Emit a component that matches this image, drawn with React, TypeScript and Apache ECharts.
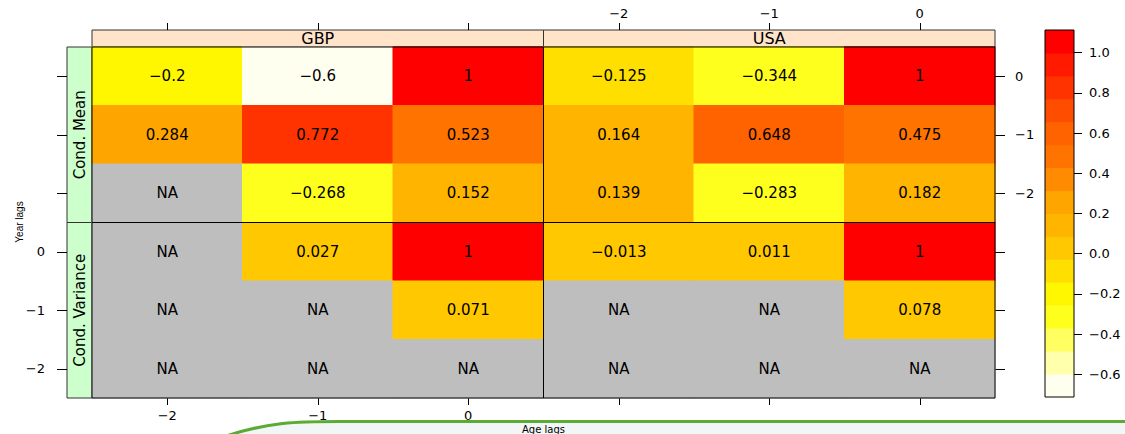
import React, { useEffect, useRef } from "react";
import * as echarts from "echarts";

// Axis categories
const ageLags = ["-2", "-1", "0"]; // x, left to right
const yearAxis = ["-2", "-1", "0"]; // y, bottom to top
const yearRows = ["0", "-1", "-2"]; // row order of the tables below (top to bottom)

// Correlation tables: rows = year lag (0, -1, -2), columns = age lag (-2, -1, 0); null = NA
const gbpMean = [
  [-0.2, -0.6, 1],
  [0.284, 0.772, 0.523],
  [null, -0.268, 0.152],
];
const usaMean = [
  [-0.125, -0.344, 1],
  [0.164, 0.648, 0.475],
  [0.139, -0.283, 0.182],
];
const gbpVar = [
  [null, 0.027, 1],
  [null, null, 0.071],
  [null, null, null],
];
const usaVar = [
  [-0.013, 0.011, 1],
  [null, null, 0.078],
  [null, null, null],
];

const currencies = ["GBP", "USA"];
const moments = ["Cond. Mean", "Cond. Variance"];

// Colour key: 16 levels between these breaks (bottom to top)
const keyBreaks = [
  -0.712, -0.598, -0.484, -0.37, -0.256, -0.142, -0.028, 0.086, 0.2, 0.314,
  0.428, 0.542, 0.656, 0.77, 0.884, 0.998, 1.112,
];
const keyColors = [
  "#FFFFF0", "#FFFFAC", "#FFFF62", "#FFFF1E", "#FFF700", "#FFDF00", "#FFC800",
  "#FFB400", "#FFA500", "#FF8C00", "#FF7300", "#FF6300", "#FF4D00", "#FF3300",
  "#FF1A00", "#FF0000",
];
const keyTicks = [-0.6, -0.4, -0.2, 0, 0.2, 0.4, 0.6, 0.8, 1.0];

const NA_GRAY = "#BEBEBE";
const FONT = '"DejaVu Sans", "Liberation Sans", sans-serif';
const minus = (s: string) => s.replace("-", "\u2212");

function levelColor(v: number) {
  for (let i = 0; i < keyColors.length; i++) {
    if (v >= keyBreaks[i] && v < keyBreaks[i + 1]) return keyColors[i];
  }
  return v < keyBreaks[0] ? keyColors[0] : keyColors[keyColors.length - 1];
}

// Panel geometry
const PX = [92, 543.5];
const PY = [47, 222.5];
const PW = 451.5;
const PH = 175.5;

export default function App() {
  const ref = useRef<HTMLDivElement>(null);

  useEffect(() => {
    if (!ref.current) return;
    const chart = echarts.init(ref.current, null, { renderer: "svg" });

    const tables = [
      [gbpMean, usaMean],
      [gbpVar, usaVar],
    ];

    const grids: any[] = [];
    const xAxes: any[] = [];
    const yAxes: any[] = [];
    const series: any[] = [];

    const tickStyle = { color: "#000", width: 1 };
    const labelStyle = { color: "#000", fontSize: 13, fontFamily: FONT };

    for (let r = 0; r < 2; r++) {
      for (let c = 0; c < 2; c++) {
        const gi = grids.length;
        grids.push({ left: PX[c], top: PY[r], width: PW, height: PH, show: false });

        // lattice-style alternating axes
        const xTop = r === 0;
        const xLabels = (r === 0 && c === 1) || (r === 1 && c === 0);
        xAxes.push({
          type: "category",
          gridIndex: gi,
          data: ageLags,
          position: xTop ? "top" : "bottom",
          offset: xTop ? 17 : 0,
          axisLine: { show: false },
          axisTick: { show: true, alignWithLabel: true, length: 7, lineStyle: tickStyle },
          axisLabel: {
            show: xLabels,
            margin: xTop ? 10 : 11,
            formatter: (v: string) => minus(v),
            ...labelStyle,
          },
          splitLine: { show: false },
        });
        const yLeft = c === 0;
        const yLabels = (r === 1 && c === 0) || (r === 0 && c === 1);
        yAxes.push({
          type: "category",
          gridIndex: gi,
          data: yearAxis,
          position: yLeft ? "left" : "right",
          offset: yLeft ? 25 : 0,
          axisLine: { show: false },
          axisTick: { show: true, alignWithLabel: true, length: 10, lineStyle: tickStyle },
          axisLabel: {
            show: yLabels,
            margin: yLeft ? 22 : 20,
            formatter: (v: string) => minus(v),
            ...labelStyle,
          },
          splitLine: { show: false },
        });

        const table = tables[r][c];
        const cells: { x: number; y: number; v: number | null }[] = [];
        table.forEach((row, ri) => {
          row.forEach((v, ci) => {
            cells.push({ x: ci, y: yearAxis.indexOf(yearRows[ri]), v });
          });
        });

        series.push({
          type: "custom",
          xAxisIndex: gi,
          yAxisIndex: gi,
          data: cells.map((d) => [d.x, d.y]),
          encode: { x: 0, y: 1 },
          renderItem: (params: any, api: any) => {
            const cell = cells[params.dataIndex];
            const p = api.coord([api.value(0), api.value(1)]);
            const s = api.size([1, 1]);
            const label = cell.v === null ? "NA" : minus(String(cell.v));
            const fill = cell.v === null ? NA_GRAY : levelColor(cell.v);
            return {
              type: "group",
              children: [
                {
                  type: "rect",
                  shape: {
                    x: p[0] - s[0] / 2 - 0.5,
                    y: p[1] - s[1] / 2 - 0.5,
                    width: s[0] + 1,
                    height: s[1] + 1,
                  },
                  style: { fill },
                },
                {
                  type: "text",
                  style: {
                    x: p[0],
                    y: p[1],
                    text: label,
                    align: "center",
                    verticalAlign: "middle",
                    fill: "#000",
                    font: `15px ${FONT}`,
                  },
                },
              ],
            };
          },
        });
      }
    }

    // Colour key
    const keyGrid = grids.length;
    grids.push({ left: 1045, top: 30, width: 29, height: 367, show: false });
    xAxes.push({
      type: "category",
      gridIndex: keyGrid,
      data: ["key"],
      show: false,
    });
    yAxes.push({
      type: "value",
      gridIndex: keyGrid,
      min: keyBreaks[0],
      max: keyBreaks[keyBreaks.length - 1],
      position: "right",
      axisLine: { show: false },
      splitLine: { show: false },
      axisTick: { show: true, length: 8, customValues: keyTicks, lineStyle: tickStyle },
      axisLabel: {
        show: true,
        margin: 15,
        customValues: keyTicks,
        formatter: (v: number) => minus(v.toFixed(1)),
        ...labelStyle,
      },
    });
    series.push({
      type: "custom",
      xAxisIndex: keyGrid,
      yAxisIndex: keyGrid,
      data: keyColors.map((_, i) => [0, keyBreaks[i], keyBreaks[i + 1]]),
      encode: { x: 0, y: [1, 2] },
      renderItem: (params: any, api: any) => {
        const top = api.coord([0, api.value(2)]);
        const bot = api.coord([0, api.value(1)]);
        const w = api.size([1, 0])[0];
        return {
          type: "rect",
          shape: { x: top[0] - w / 2, y: top[1], width: w, height: bot[1] - top[1] + 0.5 },
          style: { fill: keyColors[params.dataIndex] },
        };
      },
    });

    const graphic: any[] = [];
    // strips
    currencies.forEach((name, c) => {
      graphic.push({
        type: "rect",
        shape: { x: PX[c], y: 30, width: PW, height: 17 },
        style: { fill: "#FFE4CA", stroke: "#333", lineWidth: 1 },
      });
      graphic.push({
        type: "text",
        x: PX[c] + PW / 2,
        y: 38.5,
        style: { text: name, align: "center", verticalAlign: "middle", fill: "#000", font: `16px ${FONT}` },
      });
    });
    moments.forEach((name, r) => {
      graphic.push({
        type: "rect",
        shape: { x: 67, y: PY[r], width: 25, height: PH },
        style: { fill: "#CCFFCC", stroke: "#333", lineWidth: 1 },
      });
      graphic.push({
        type: "text",
        x: 79.5,
        y: PY[r] + PH / 2,
        rotation: Math.PI / 2,
        style: { text: name, align: "center", verticalAlign: "middle", fill: "#000", font: `15px ${FONT}` },
      });
    });
    // panel borders
    for (let r = 0; r < 2; r++) {
      for (let c = 0; c < 2; c++) {
        graphic.push({
          type: "rect",
          z: 100,
          shape: { x: PX[c], y: PY[r], width: PW, height: PH },
          style: { fill: "none", stroke: "#000", lineWidth: 1 },
        });
      }
    }
    // colour key border
    graphic.push({
      type: "rect",
      z: 100,
      shape: { x: 1045, y: 30, width: 29, height: 367 },
      style: { fill: "none", stroke: "#000", lineWidth: 1 },
    });
    // axis titles
    graphic.push({
      type: "text",
      x: 19,
      y: 222,
      rotation: Math.PI / 2,
      style: {
        text: "Year lags",
        align: "center",
        verticalAlign: "middle",
        fill: "#000",
        font: '10px "Liberation Sans", sans-serif',
      },
    });
    // bottom band with green rule
    graphic.push({
      type: "polygon",
      shape: {
        points: [
          [230, 434],
          [268, 426],
          [305, 422.5],
          [335, 422],
          [1125, 422],
          [1125, 434],
        ],
      },
      style: { fill: "#F3F6F7" },
    });
    graphic.push({
      type: "bezierCurve",
      shape: { x1: 226, y1: 436, cpx1: 270, cpy1: 422, cpx2: 295, cpy2: 421.5, x2: 340, y2: 421.5 },
      style: { stroke: "#5BAA34", lineWidth: 3, fill: "none" },
    });
    graphic.push({
      type: "line",
      shape: { x1: 339, y1: 421.5, x2: 1125, y2: 421.5 },
      style: { stroke: "#5BAA34", lineWidth: 3 },
    });
    graphic.push({
      type: "text",
      x: PX[1],
      y: 424,
      z: 50,
      style: { text: "Age lags", align: "center", verticalAlign: "top", fill: "#000", font: `10px ${FONT}` },
    });

    chart.setOption({
      animation: false,
      backgroundColor: "#fff",
      grid: grids,
      xAxis: xAxes,
      yAxis: yAxes,
      series,
      graphic,
    });

    return () => chart.dispose();
  }, []);

  return (
    <div
      ref={ref}
      style={{ position: "absolute", left: 0, top: 0, width: 1125, height: 434 }}
    />
  );
}
